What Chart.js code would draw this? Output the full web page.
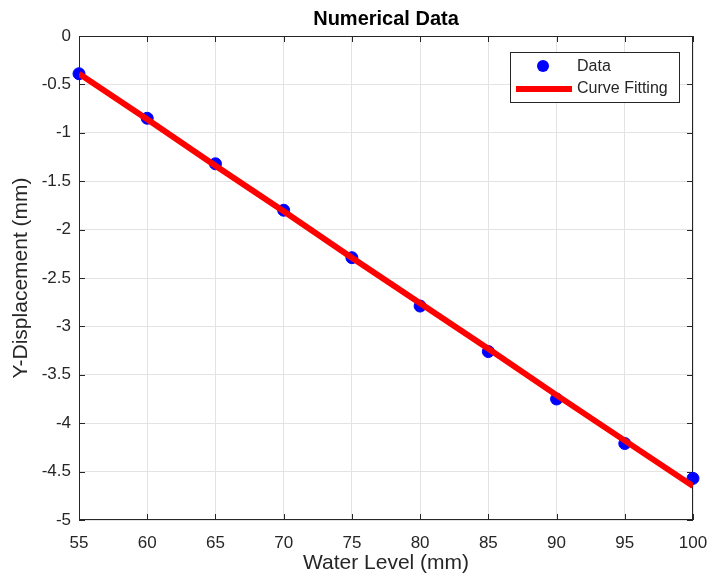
<!DOCTYPE html>
<html lang="en">
<head>
    <meta charset="UTF-8">
    <title>Numerical Data</title>
    <script src="https://cdn.jsdelivr.net/npm/chart.js"></script>
    <style>
        html, body {
            margin: 0;
            padding: 0;
            background: #fff;
        }
        #wrap {
            width: 713px;
            height: 578px;
        }
    </style>
</head>
<body>
    <div id="wrap">
        <canvas id="fit-chart" width="713" height="578"></canvas>
    </div>

    <script>
        // Measured displacement at each water level
        const waterLevel = [55, 60, 65, 70, 75, 80, 85, 90, 95, 100];
        const displacement = [-0.39, -0.85, -1.32, -1.80, -2.29, -2.79, -3.26, -3.75, -4.21, -4.57];

        // Linear fit evaluated at the same levels
        const fitDisplacement = [-0.39, -0.86, -1.34, -1.81, -2.29, -2.76, -3.23, -3.71, -4.18, -4.65];

        const xTicks = [55, 60, 65, 70, 75, 80, 85, 90, 95, 100];
        const yTicks = [0, -0.5, -1, -1.5, -2, -2.5, -3, -3.5, -4, -4.5, -5];

        const fontFamily = "'Liberation Sans', Arial, Helvetica, sans-serif";
        const axisColor = "#262626";

        // Box around the axes with inward tick marks, title and legend
        const framePlugin = {
            id: "frame",
            beforeDatasetsDraw(chart) {
                const { ctx, chartArea: a, scales: { x, y } } = chart;
                ctx.save();
                ctx.strokeStyle = axisColor;
                ctx.lineWidth = 1;
                ctx.strokeRect(a.left + 0.5, a.top + 0.5, a.width - 1, a.height - 1);
                ctx.beginPath();
                xTicks.forEach(v => {
                    const px = Math.round(x.getPixelForValue(v)) + 0.5;
                    ctx.moveTo(px, a.bottom);
                    ctx.lineTo(px, a.bottom - 6);
                    ctx.moveTo(px, a.top);
                    ctx.lineTo(px, a.top + 6);
                });
                yTicks.forEach(v => {
                    const py = Math.round(y.getPixelForValue(v)) + 0.5;
                    ctx.moveTo(a.left, py);
                    ctx.lineTo(a.left + 6, py);
                    ctx.moveTo(a.right, py);
                    ctx.lineTo(a.right - 6, py);
                });
                ctx.stroke();
                ctx.restore();
            },
            afterDraw(chart) {
                const { ctx, chartArea: a } = chart;
                ctx.save();

                // title centred over the plot area
                ctx.fillStyle = "#000";
                ctx.font = "bold 20px " + fontFamily;
                ctx.textAlign = "center";
                ctx.textBaseline = "middle";
                ctx.fillText("Numerical Data", (a.left + a.right) / 2, 19);

                // legend box
                const bx = a.right - 183, by = a.top + 16, bw = 169, bh = 50;
                ctx.fillStyle = "#fff";
                ctx.fillRect(bx, by, bw, bh);
                ctx.strokeStyle = axisColor;
                ctx.lineWidth = 1;
                ctx.strokeRect(bx + 0.5, by + 0.5, bw, bh);

                ctx.fillStyle = "#0000ff";
                ctx.beginPath();
                ctx.arc(bx + 33, by + 14, 6, 0, Math.PI * 2);
                ctx.fill();

                ctx.strokeStyle = "#ff0000";
                ctx.lineWidth = 6;
                ctx.beginPath();
                ctx.moveTo(bx + 6, by + 37);
                ctx.lineTo(bx + 62, by + 37);
                ctx.stroke();

                ctx.fillStyle = axisColor;
                ctx.font = "16px " + fontFamily;
                ctx.textAlign = "left";
                ctx.fillText("Data", bx + 67, by + 15);
                ctx.fillText("Curve Fitting", bx + 67, by + 37);
                ctx.restore();
            }
        };

        new Chart(document.getElementById("fit-chart"), {
            type: "scatter",
            data: {
                datasets: [
                    {
                        label: "Curve Fitting",
                        type: "line",
                        data: waterLevel.map((v, i) => ({ x: v, y: fitDisplacement[i] })),
                        borderColor: "#ff0000",
                        borderWidth: 6,
                        pointRadius: 0,
                        fill: false,
                        order: 0
                    },
                    {
                        label: "Data",
                        data: waterLevel.map((v, i) => ({ x: v, y: displacement[i] })),
                        backgroundColor: "#0000ff",
                        borderColor: "#0000ff",
                        pointRadius: 6,
                        pointHoverRadius: 6,
                        clip: false,
                        order: 1
                    }
                ]
            },
            options: {
                responsive: false,
                animation: false,
                events: [],
                layout: {
                    padding: { top: 36, right: 20, left: 0, bottom: 0 }
                },
                plugins: {
                    legend: { display: false },
                    title: { display: false },
                    tooltip: { enabled: false }
                },
                scales: {
                    x: {
                        type: "linear",
                        min: 55,
                        max: 100,
                        afterFit(scale) {
                            scale.height = 58;
                            scale.paddingLeft = 0;
                            scale.paddingRight = 0;
                        },
                        afterBuildTicks(scale) { scale.ticks = xTicks.map(v => ({ value: v })); },
                        border: { display: false },
                        grid: { color: "#e3e3e3", drawTicks: false },
                        ticks: {
                            padding: 13,
                            color: axisColor,
                            font: { family: fontFamily, size: 17 },
                            maxRotation: 0
                        },
                        title: {
                            display: true,
                            text: "Water Level (mm)",
                            color: axisColor,
                            font: { family: fontFamily, size: 21 },
                            padding: { top: 0, bottom: 2 }
                        }
                    },
                    y: {
                        type: "linear",
                        min: -5,
                        max: 0,
                        afterFit(scale) {
                            scale.width = 79;
                            scale.paddingTop = 0;
                            scale.paddingBottom = 0;
                        },
                        afterBuildTicks(scale) { scale.ticks = yTicks.map(v => ({ value: v })); },
                        border: { display: false },
                        grid: { color: "#e3e3e3", drawTicks: false },
                        ticks: {
                            padding: 8,
                            color: axisColor,
                            font: { family: fontFamily, size: 17 },
                            callback: v => String(v)
                        },
                        title: {
                            display: true,
                            text: "Y-Displacement (mm)",
                            color: axisColor,
                            font: { family: fontFamily, size: 21 },
                            padding: { top: 9, bottom: 0 }
                        }
                    }
                }
            },
            plugins: [framePlugin]
        });
    </script>
</body>
</html>
